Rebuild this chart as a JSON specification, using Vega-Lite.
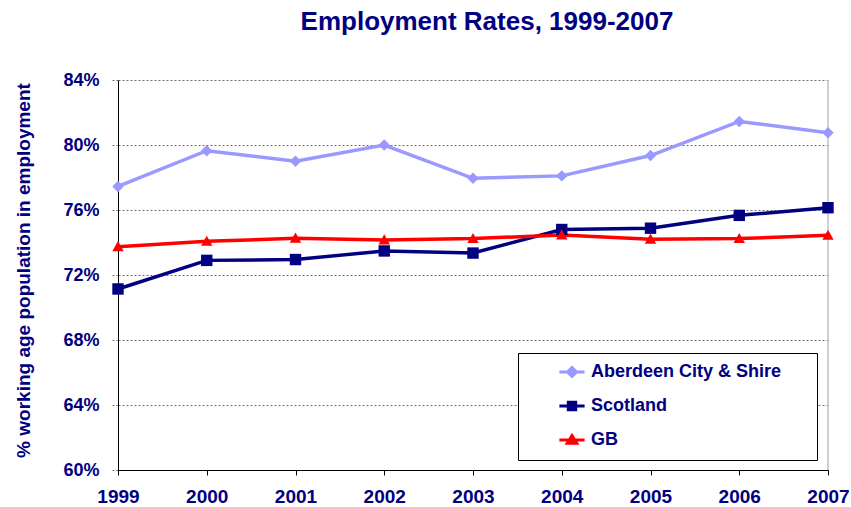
{
  "$schema": "https://vega.github.io/schema/vega-lite/v6.json",
  "width": 710,
  "height": 390,
  "autosize": "none",
  "padding": {"left": 118, "top": 80, "right": 23, "bottom": 37},
  "background": "white",
  "config": {
    "view": {"stroke": null},
    "font": "Liberation Sans"
  },
  "title": {
    "text": "Employment Rates, 1999-2007",
    "fontSize": 26,
    "fontWeight": "bold",
    "color": "#000080",
    "font": "Liberation Sans",
    "anchor": "middle",
    "dx": 14,
    "offset": 36
  },
  "data": {
    "values": [
      {"year": "1999", "series": "Aberdeen City & Shire", "value": 77.45},
      {"year": "2000", "series": "Aberdeen City & Shire", "value": 79.65},
      {"year": "2001", "series": "Aberdeen City & Shire", "value": 79.0},
      {"year": "2002", "series": "Aberdeen City & Shire", "value": 80.0},
      {"year": "2003", "series": "Aberdeen City & Shire", "value": 77.95},
      {"year": "2004", "series": "Aberdeen City & Shire", "value": 78.1},
      {"year": "2005", "series": "Aberdeen City & Shire", "value": 79.35},
      {"year": "2006", "series": "Aberdeen City & Shire", "value": 81.45},
      {"year": "2007", "series": "Aberdeen City & Shire", "value": 80.75},
      {"year": "1999", "series": "Scotland", "value": 71.14},
      {"year": "2000", "series": "Scotland", "value": 72.9},
      {"year": "2001", "series": "Scotland", "value": 72.95},
      {"year": "2002", "series": "Scotland", "value": 73.48},
      {"year": "2003", "series": "Scotland", "value": 73.35},
      {"year": "2004", "series": "Scotland", "value": 74.8},
      {"year": "2005", "series": "Scotland", "value": 74.88},
      {"year": "2006", "series": "Scotland", "value": 75.67},
      {"year": "2007", "series": "Scotland", "value": 76.14},
      {"year": "1999", "series": "GB", "value": 73.74},
      {"year": "2000", "series": "GB", "value": 74.07},
      {"year": "2001", "series": "GB", "value": 74.26},
      {"year": "2002", "series": "GB", "value": 74.15},
      {"year": "2003", "series": "GB", "value": 74.24},
      {"year": "2004", "series": "GB", "value": 74.46},
      {"year": "2005", "series": "GB", "value": 74.2},
      {"year": "2006", "series": "GB", "value": 74.24},
      {"year": "2007", "series": "GB", "value": 74.44}
    ]
  },
  "encoding": {
    "x": {
      "field": "year",
      "type": "ordinal",
      "scale": {"type": "point", "padding": 0},
      "axis": {
        "title": null,
        "labelAngle": 0,
        "labelFont": "Liberation Sans",
        "labelFontSize": 19,
        "labelFontWeight": "bold",
        "labelColor": "#000080",
        "labelPadding": 12,
        "domainColor": "black",
        "domainWidth": 1,
        "tickColor": "black",
        "tickSize": 5,
        "grid": false
      }
    },
    "y": {
      "field": "value",
      "type": "quantitative",
      "scale": {"domain": [60, 84], "nice": false, "zero": false},
      "axis": {
        "values": [60, 64, 68, 72, 76, 80, 84],
        "labelExpr": "datum.value + '%'",
        "title": "% working age population in employment",
        "titleFont": "Liberation Sans",
        "titleFontSize": 19,
        "titleFontWeight": "bold",
        "titleColor": "#000080",
        "titleX": -95,
        "titleY": 190,
        "titleAngle": -90,
        "titleAlign": "center",
        "titleBaseline": "middle",
        "labelFont": "Liberation Sans",
        "labelFontSize": 18,
        "labelFontWeight": "bold",
        "labelColor": "#000080",
        "labelPadding": 13,
        "domainColor": "black",
        "tickColor": "#707070",
        "tickSize": 6,
        "tickDash": [2, 2],
        "grid": true,
        "gridColor": "#707070",
        "gridDash": [2, 2],
        "gridWidth": 1
      }
    }
  },
  "layer": [
    {
      "mark": {"type": "rule", "color": "#c0c0c0", "strokeWidth": 1.5},
      "data": {"values": [{"year": "2007"}]},
      "encoding": {"x": {"field": "year", "type": "ordinal"}, "y": {"value": 0}, "y2": {"value": 390}}
    },
    {
      "mark": {"type": "line", "strokeWidth": 3.5},
      "encoding": {
        "color": {
          "field": "series",
          "type": "nominal",
          "scale": {
            "domain": ["Aberdeen City & Shire", "Scotland", "GB"],
            "range": ["#9999FF", "#000080", "#FF0000"]
          },
          "legend": {
            "title": "\u00a0",
            "titleOrient": "right",
            "titlePadding": 26,
            "titleFontSize": 18,
            "orient": "none",
            "legendX": 400,
            "legendY": 273,
            "padding": 10,
            "strokeColor": "black",
            "fillColor": "white",
            "symbolSize": 144,
            "symbolOffset": 35,
            "symbolStrokeWidth": 3,
            "symbolOpacity": 1,
            "labelOffset": 10,
            "rowPadding": 13,
            "labelFont": "Liberation Sans",
            "labelFontSize": 18,
            "labelFontWeight": "bold",
            "labelColor": "#000080",
            "labelLimit": 400,
            "encode": {
              "symbols": {
                "update": {
                  "strokeWidth": {"value": 3},
                  "opacity": {"value": 1}
                }
              }
            }
          }
        }
      }
    },
    {
      "mark": {"type": "point", "filled": true, "size": 144, "opacity": 1},
      "encoding": {
        "color": {"field": "series", "type": "nominal"},
        "shape": {
          "condition": [
            {"test": "datum.series === 'Scotland'", "value": "M-0.95,-0.95H0.95V0.95H-0.95Z"},
            {"test": "datum.series === 'GB'", "value": "M0,-0.95L0.95,0.75H-0.95Z"}
          ],
          "value": "M0,-0.95L0.95,0L0,0.95L-0.95,0Z"
        }
      }
    },
    {
      "mark": {"type": "point", "filled": true, "size": 144, "opacity": 0},
      "encoding": {
        "color": {"field": "series", "type": "nominal"},
        "shape": {
          "field": "series",
          "type": "nominal",
          "scale": {
            "domain": ["Aberdeen City & Shire", "Scotland", "GB"],
            "range": [
              "M-2.1,0L2.1,0M0,-0.75L0.75,0L0,0.75L-0.75,0Z",
              "M-2.1,0L2.1,0M-0.62,-0.62L0.62,-0.62L0.62,0.62L-0.62,0.62Z",
              "M-2.1,0L2.1,0M0,-0.75L0.8,0.55L-0.8,0.55Z"
            ]
          }
        }
      }
    }
  ]
}
